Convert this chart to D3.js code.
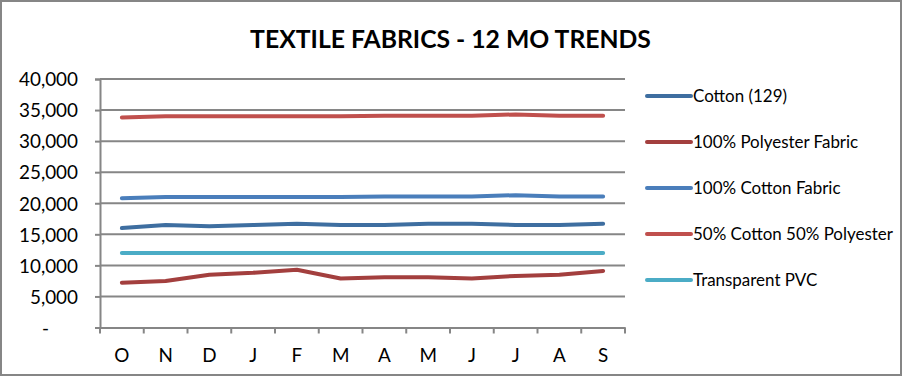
<!DOCTYPE html>
<html><head><meta charset="utf-8">
<script src="https://cdn.jsdelivr.net/npm/d3@7"></script>
<style>body{margin:0;background:#fff}svg{display:block}text{font-family:Lato,"Open Sans",sans-serif;fill:#000}</style>
</head><body><svg id="c" width="902" height="376"></svg>
<script>
const title = "TEXTILE FABRICS - 12 MO TRENDS";
const months = ["O","N","D","J","F","M","A","M","J","J","A","S"];
const yTicks = [0,5000,10000,15000,20000,25000,30000,35000,40000];
const seriesNames = ["Cotton (129)","100% Polyester Fabric","100% Cotton Fabric","50% Cotton 50% Polyester","Transparent PVC"];
const seriesColors = ["#3e6ea0","#a33f3e","#4a7ebb","#c0504d","#4bacc6"];
const cotton129 = [16000,16500,16300,16500,16700,16500,16500,16700,16700,16500,16500,16700];
const polyester100 = [7200,7500,8500,8800,9300,7900,8100,8100,7900,8300,8500,9100];
const cotton100 = [20800,21000,21000,21000,21000,21000,21100,21100,21100,21300,21100,21100];
const cotton50poly50 = [33800,34000,34000,34000,34000,34000,34100,34100,34100,34300,34100,34100];
const pvc = [12000,12000,12000,12000,12000,12000,12000,12000,12000,12000,12000,12000];
const seriesValues = [cotton129, polyester100, cotton100, cotton50poly50, pvc];

const svg = d3.select("#c");
const L = 100, R = 625, T = 79, B = 327.5;
const x = d3.scaleBand().domain(d3.range(months.length)).range([L, R]);
const y = d3.scaleLinear().domain([0, 40000]).range([B, T]);
const grid = "#868686";

function fit(sel, target){
  const w = sel.node().getComputedTextLength();
  const fs = parseFloat(sel.attr("font-size"));
  sel.attr("font-size", (fs*target/w).toFixed(2));
}

// border
svg.append("rect").attr("x",1).attr("y",1).attr("width",900).attr("height",374)
  .attr("fill","none").attr("stroke",grid).attr("stroke-width",2);

// title
const tt = svg.append("text").attr("x",450.5).attr("y",48).attr("text-anchor","middle")
  .attr("font-weight","bold").attr("font-size",26).text(title);
fit(tt, 401);

// gridlines
svg.append("g").selectAll("line").data(yTicks.filter(d=>d>0)).join("line")
  .attr("x1",L).attr("x2",R).attr("y1",d=>y(d)).attr("y2",d=>y(d))
  .attr("stroke",grid).attr("stroke-width",2);

// y axis
const yAxis = svg.append("g").attr("transform",`translate(${L},0)`)
  .call(d3.axisLeft(y).tickValues(yTicks).tickSize(5).tickPadding(17)
    .tickFormat(d => d===0 ? "-" : d3.format(",")(d)));
yAxis.select(".domain").attr("stroke",grid).attr("stroke-width",2);
yAxis.selectAll(".tick line").attr("stroke",grid).attr("stroke-width",2);
yAxis.selectAll("text").attr("font-size",19).attr("font-family","Lato").attr("dy","0.36em").attr("fill","#000");
fit(yAxis.select(".tick:last-of-type text"), 59);
const yfs = yAxis.select(".tick:last-of-type text").attr("font-size");
yAxis.selectAll("text").attr("font-size",yfs);
yAxis.select(".tick:first-of-type text").attr("dx","-29");

// x axis
const xAxis = svg.append("g").attr("transform",`translate(0,${B})`)
  .call(d3.axisBottom(x).tickSize(0).tickPadding(21).tickFormat(i=>months[i]));
xAxis.select(".domain").attr("stroke",grid).attr("stroke-width",2);
xAxis.selectAll("text").attr("font-size",yfs).attr("font-family","Lato").attr("fill","#000");
const xt = d3.range(months.length+1).map(i => L + i*x.step());
svg.append("g").selectAll("line").data(xt).join("line")
  .attr("x1",d=>d).attr("x2",d=>d).attr("y1",B).attr("y2",B+6)
  .attr("stroke",grid).attr("stroke-width",2);

// lines
const line = d3.line().x((d,i)=>x(i)+x.bandwidth()/2).y(d=>y(d));
const order = [4,1,0,2,3];
svg.append("g").selectAll("path").data(order).join("path")
  .attr("d",k=>line(seriesValues[k])).attr("fill","none")
  .attr("stroke",k=>seriesColors[k]).attr("stroke-width",4)
  .attr("stroke-linecap","round").attr("stroke-linejoin","round");

// legend
const lg = svg.append("g").selectAll("g").data(seriesNames).join("g")
  .attr("transform",(d,i)=>`translate(647,${96 + i*46})`);
lg.append("line").attr("x1",0).attr("x2",44).attr("y1",0).attr("y2",0)
  .attr("stroke",(d,i)=>seriesColors[i]).attr("stroke-width",4).attr("stroke-linecap","round");
const lt = lg.append("text").attr("x",46).attr("dy","0.36em").attr("font-size",17).text(d=>d);
fit(d3.select(lt.nodes()[3]), 200);
lt.attr("font-size", d3.select(lt.nodes()[3]).attr("font-size"));
</script></body></html>
